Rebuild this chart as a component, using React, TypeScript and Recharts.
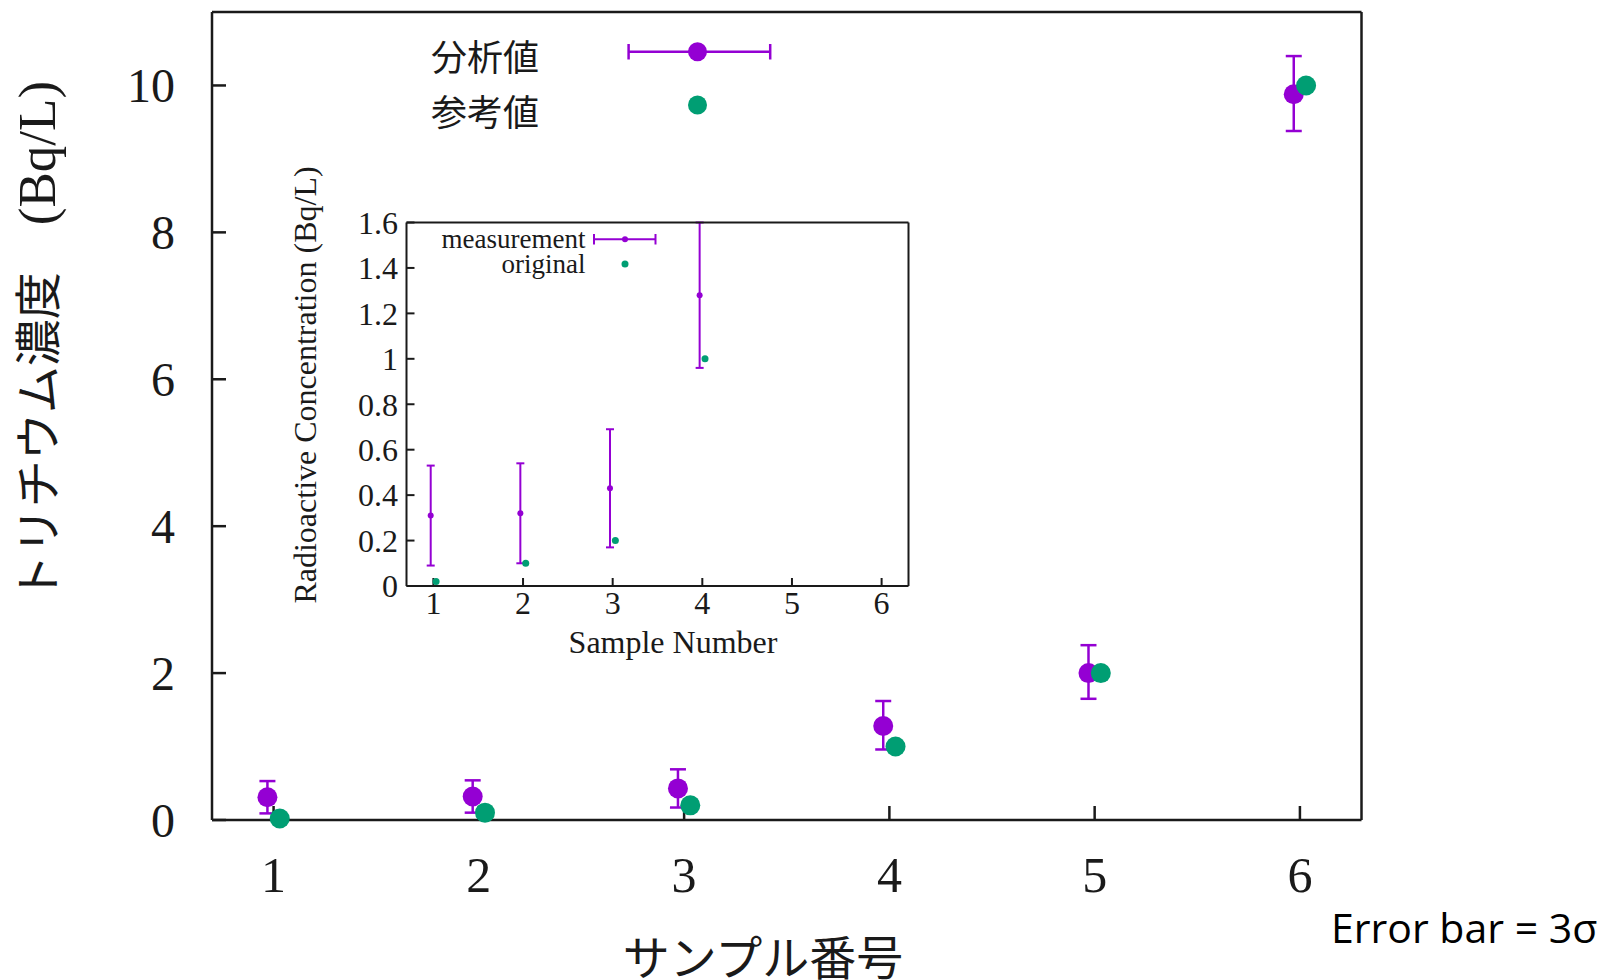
import { ScatterChart, Scatter, XAxis, YAxis, ErrorBar, Legend, Label } from "recharts";

// sample numbers on the horizontal axis
const sampleNumbers = [1, 2, 3, 4, 5, 6];

// 分析値 / measurement (Bq/L) and its 3σ band
const analysedValues = [0.31, 0.32, 0.43, 1.28, 2.0, 9.88];
const analysedLower = [0.09, 0.1, 0.17, 0.96, 1.65, 9.38];
const analysedUpper = [0.53, 0.54, 0.69, 1.62, 2.38, 10.4];

// 参考値 / original (Bq/L)
const referenceValues = [0.02, 0.1, 0.2, 1.0, 2.0, 10.0];

const sampleTicks = [1, 2, 3, 4, 5, 6];
const mainTopTicks = [3, 4, 5, 6]; // 1 and 2 sit under the key box
const mainValueTicks = [0, 2, 4, 6, 8, 10];
const insetValueTicks = [0, 0.2, 0.4, 0.6, 0.8, 1, 1.2, 1.4, 1.6];
const insetTop = 1.6;

const PURPLE = "#9400d3";
const GREEN = "#009e73";
const INK = "#1a1a1a";
const serif = "'Liberation Serif', 'Times New Roman', serif";
const jp = "'Noto Sans CJK JP', 'Noto Sans', sans-serif";

// the two series are drawn a little apart so they do not hide each other
const shift = 0.03;

const mainAnalysed = sampleNumbers.map((n, i) => ({
    x: n - shift,
    y: analysedValues[i],
    err: [analysedValues[i] - analysedLower[i], analysedUpper[i] - analysedValues[i]],
}));
const mainReference = sampleNumbers.map((n, i) => ({ x: n + shift, y: referenceValues[i] }));

// inset is a zoom on the low samples: keep what falls in its window, cut bars at the frame
const insetAnalysed = sampleNumbers
    .map((n, i) => ({
        x: n - shift,
        y: analysedValues[i],
        err: [analysedValues[i] - analysedLower[i], Math.min(analysedUpper[i], insetTop) - analysedValues[i]],
    }))
    .filter((r) => r.y <= insetTop);
const insetReference = mainReference.filter((r) => r.y <= insetTop);

const dot = (r: number, fill: string) => (props: any) =>
    <circle cx={props.cx} cy={props.cy} r={r} fill={fill} />;

const MainKey = () => (
    <svg width={380} height={130}>
        <text x={119} y={35} textAnchor="end" dominantBaseline="central" fontFamily={jp} fontSize={36} fill={INK}>分析値</text>
        <line x1={208.6} x2={350.2} y1={31.7} y2={31.7} stroke={PURPLE} strokeWidth={2.5} />
        <line x1={208.6} x2={208.6} y1={24} y2={39.5} stroke={PURPLE} strokeWidth={2.5} />
        <line x1={350.2} x2={350.2} y1={24} y2={39.5} stroke={PURPLE} strokeWidth={2.5} />
        <circle cx={277.5} cy={31.7} r={9.5} fill={PURPLE} />
        <text x={119} y={90} textAnchor="end" dominantBaseline="central" fontFamily={jp} fontSize={36} fill={INK}>参考値</text>
        <circle cx={277.5} cy={85} r={9.5} fill={GREEN} />
    </svg>
);

const InsetKey = () => (
    <svg width={260} height={64}>
        <text x={165.5} y={17} textAnchor="end" dominantBaseline="central" fontFamily={serif} fontSize={27} fill={INK}>measurement</text>
        <line x1={174} x2={235.5} y1={17.3} y2={17.3} stroke={PURPLE} strokeWidth={2} />
        <line x1={174} x2={174} y1={12} y2={22.5} stroke={PURPLE} strokeWidth={2} />
        <line x1={235.5} x2={235.5} y1={12} y2={22.5} stroke={PURPLE} strokeWidth={2} />
        <circle cx={205} cy={17.3} r={3} fill={PURPLE} />
        <text x={165.5} y={42} textAnchor="end" dominantBaseline="central" fontFamily={serif} fontSize={27} fill={INK}>original</text>
        <circle cx={205} cy={42} r={3.5} fill={GREEN} />
    </svg>
);

const frame = { stroke: INK, strokeWidth: 2.5 };
const insetFrame = { stroke: INK, strokeWidth: 2 };

export default function App() {
    return (
        <div style={{ position: "absolute", left: 0, top: 0, width: 1605, height: 980, background: "#fff" }}>
            <ScatterChart width={1605} height={980} margin={{ top: 12, right: 243.5, bottom: 100, left: 112 }}>
                <XAxis
                    dataKey="x"
                    type="number"
                    domain={[0.7, 6.3]}
                    ticks={sampleTicks}
                    interval={0}
                    height={60}
                    tickSize={-14}
                    tickMargin={50}
                    axisLine={frame}
                    tickLine={frame}
                    tick={{ fontSize: 50, fontFamily: serif, fill: INK }}
                >
                    <Label
                        content={() => (
                            <text x={763} y={954} textAnchor="middle" dominantBaseline="central" fontFamily={jp} fontSize={47} fill={INK}>
                                サンプル番号
                            </text>
                        )}
                    />
                    <Label
                        content={() => (
                            <text x={1331} y={943} fontFamily="'Open Sans', 'Noto Sans', sans-serif" fontSize={41} fill="#000">
                                Error bar = 3σ
                            </text>
                        )}
                    />
                </XAxis>
                <YAxis
                    dataKey="y"
                    type="number"
                    domain={[0, 11]}
                    ticks={mainValueTicks}
                    interval={0}
                    width={100}
                    tickSize={-14}
                    tickMargin={51}
                    axisLine={frame}
                    tickLine={frame}
                    tick={{ fontSize: 48, fontFamily: serif, fill: INK }}
                >
                    <Label
                        content={() => (
                            <text x={55} y={341} textAnchor="middle" transform="rotate(-90, 55, 341)" fill={INK}>
                                <tspan fontFamily={jp} fontSize={47}>トリチウム濃度　</tspan>
                                <tspan fontFamily={serif} fontSize={53}>(Bq/L)</tspan>
                            </text>
                        )}
                    />
                </YAxis>
                <XAxis
                    xAxisId="top"
                    orientation="top"
                    mirror
                    type="number"
                    domain={[0.7, 6.3]}
                    allowDataOverflow
                    ticks={mainTopTicks}
                    interval={0}
                    tick={false}
                    tickSize={14}
                    axisLine={frame}
                    tickLine={frame}
                />
                <YAxis
                    yAxisId="right"
                    orientation="right"
                    mirror
                    type="number"
                    domain={[0, 11]}
                    allowDataOverflow
                    ticks={mainValueTicks}
                    interval={0}
                    tick={false}
                    tickSize={14}
                    axisLine={frame}
                    tickLine={frame}
                />
                <Legend
                    layout="vertical"
                    align="center"
                    verticalAlign="middle"
                    content={() => <MainKey />}
                    wrapperStyle={{ left: 420, top: 20, width: 380, height: 130 }}
                />
                <Scatter name="分析値" data={mainAnalysed} fill={PURPLE} shape={dot(10, PURPLE)} isAnimationActive={false}>
                    <ErrorBar dataKey="err" direction="y" width={8} stroke={PURPLE} strokeWidth={2.5} isAnimationActive={false} />
                </Scatter>
                <Scatter name="参考値" data={mainReference} fill={GREEN} shape={dot(10, GREEN)} isAnimationActive={false} />
            </ScatterChart>

            <div style={{ position: "absolute", left: 250, top: 140 }}>
                <ScatterChart width={700} height={520} margin={{ top: 82.5, right: 41.5, bottom: 34, left: 96.5 }}>
                    <XAxis
                        dataKey="x"
                        type="number"
                        domain={[0.7, 6.3]}
                        allowDataOverflow
                        ticks={sampleTicks}
                        interval={0}
                        height={40}
                        tickSize={-8}
                        tickMargin={13}
                        axisLine={insetFrame}
                        tickLine={insetFrame}
                        tick={{ fontSize: 32, fontFamily: serif, fill: INK }}
                    >
                        <Label
                            content={() => (
                                <text x={423} y={502} textAnchor="middle" dominantBaseline="central" fontFamily={serif} fontSize={32} fill={INK}>
                                    Sample Number
                                </text>
                            )}
                        />
                    </XAxis>
                    <YAxis
                        dataKey="y"
                        type="number"
                        domain={[0, insetTop]}
                        allowDataOverflow
                        ticks={insetValueTicks}
                        interval={0}
                        width={60}
                        tickSize={-8}
                        tickMargin={16.5}
                        axisLine={insetFrame}
                        tickLine={insetFrame}
                        tick={{ fontSize: 32, fontFamily: serif, fill: INK }}
                    >
                        <Label
                            content={() => (
                                <text x={55} y={245} textAnchor="middle" dominantBaseline="central" transform="rotate(-90, 55, 245)" fontFamily={serif} fontSize={32} fill={INK}>
                                    Radioactive Concentration (Bq/L)
                                </text>
                            )}
                        />
                    </YAxis>
                    <XAxis
                        xAxisId="top"
                        orientation="top"
                        mirror
                        type="number"
                        domain={[0.7, 6.3]}
                        allowDataOverflow
                        ticks={sampleTicks}
                        interval={0}
                        tick={false}
                        tickSize={8}
                        axisLine={insetFrame}
                        tickLine={insetFrame}
                    />
                    <YAxis
                        yAxisId="right"
                        orientation="right"
                        mirror
                        type="number"
                        domain={[0, insetTop]}
                        allowDataOverflow
                        ticks={insetValueTicks}
                        interval={0}
                        tick={false}
                        tickSize={8}
                        axisLine={insetFrame}
                        tickLine={insetFrame}
                    />
                    <Legend
                        layout="vertical"
                        align="center"
                        verticalAlign="middle"
                        content={() => <InsetKey />}
                        wrapperStyle={{ left: 170, top: 82, width: 260, height: 64 }}
                    />
                    <Scatter name="measurement" data={insetAnalysed} fill={PURPLE} shape={dot(3, PURPLE)} isAnimationActive={false}>
                        <ErrorBar dataKey="err" direction="y" width={4} stroke={PURPLE} strokeWidth={2} isAnimationActive={false} />
                    </Scatter>
                    <Scatter name="original" data={insetReference} fill={GREEN} shape={dot(3.5, GREEN)} isAnimationActive={false} />
                </ScatterChart>
            </div>
        </div>
    );
}
